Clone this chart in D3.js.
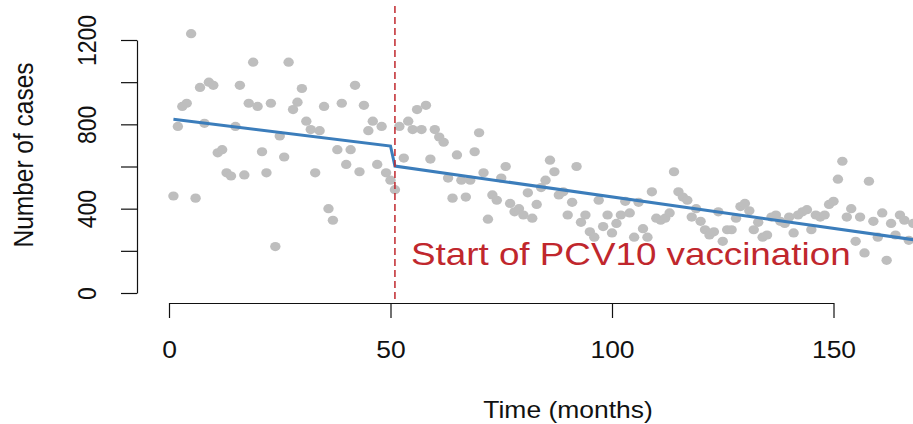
<!DOCTYPE html>
<html>
<head>
<meta charset="utf-8">
<script src="https://cdn.jsdelivr.net/npm/d3@7"></script>
<style>
  body { margin: 0; background: #fff; }
  text { font-family: Arial, "Liberation Sans", sans-serif; }
</style>
</head>
<body>
<div id="chart"></div>
<script>
var width = 913;
var height = 424;

// monthly case counts, months 1..168
var cases = [
  460, 790, 885, 900, 1230, 450, 975, 805, 1000, 985,
  665, 680, 570, 555, 790, 985, 560, 900, 1095, 885,
  670, 570, 900, 220, 745, 645, 1095, 870, 905, 970,
  815, 775, 570, 770, 885, 400, 345, 680, 900, 610,
  680, 985, 575, 890, 770, 815, 610, 790, 570, 535,
  490, 790, 640, 815, 775, 870, 775, 890, 635, 775,
  740, 715, 545, 450, 655, 535, 455, 535, 670, 760,
  570, 350, 465, 440, 545, 600, 425, 385, 400, 370,
  475, 355, 420, 500, 535, 630, 575, 465, 480, 370,
  430, 600, 335, 370, 290, 265, 440, 315, 370, 285,
  330, 370, 435, 380, 265, 430, 305, 265, 480, 355,
  345, 355, 380, 575, 480, 455, 440, 360, 400, 340,
  300, 275, 290, 385, 245, 300, 300, 355, 410, 425,
  390, 300, 335, 265, 275, 360, 370, 340, 330, 360,
  285, 370, 385, 395, 300, 370, 360, 370, 420, 435,
  540, 625, 360, 400, 245, 360, 190, 530, 340, 265,
  380, 155, 330, 275, 370, 345, 250, 330
];
var months = d3.range(1, cases.length + 1);

// fitted segmented regression (vertices of the blue line)
var fitPre = [{t: 1, v: 824}, {t: 50, v: 697}];
var fitPost = [{t: 51, v: 602}, {t: 168, v: 253}];

var interventionMonth = 51;
var annotation = "Start of PCV10 vaccination";

var xTicks = [0, 50, 100, 150];
var yTicks = [0, 200, 400, 600, 800, 1000, 1200];
var yTickLabels = [0, 400, 800, 1200];

var stretch = 1.15;

var svg = d3.select("#chart")
  .append("svg")
  .attr("width", width)
  .attr("height", height);

var xScale = d3.scaleLinear()
  .domain([0, 150])
  .range([169, 833.5]);

var yScale = d3.scaleLinear()
  .domain([0, 1200])
  .range([293, 40]);

// points
svg.append("g")
  .selectAll("ellipse")
  .data(months)
  .enter()
  .append("ellipse")
    .attr("cx", function(d) { return xScale(d); })
    .attr("cy", function(d, i) { return yScale(cases[i]); })
    .attr("rx", 5.2)
    .attr("ry", 4.6)
    .attr("fill", "#bebebe");

// fitted line
var line = d3.line()
  .x(function(d) { return xScale(d.t); })
  .y(function(d) { return yScale(d.v); });

svg.append("path")
  .datum(fitPre.concat(fitPost))
  .attr("d", line)
  .attr("fill", "none")
  .attr("stroke", "#3b7dbb")
  .attr("stroke-width", 3);

// intervention line
svg.append("line")
  .attr("x1", xScale(interventionMonth))
  .attr("x2", xScale(interventionMonth))
  .attr("y1", 6)
  .attr("y2", 303)
  .attr("stroke", "#c0272d")
  .attr("stroke-width", 1.5)
  .attr("stroke-dasharray", "7,4");

svg.append("text")
  .attr("transform", "translate(411,265) scale(" + stretch + ",1)")
  .attr("font-size", 32)
  .attr("fill", "#c0272d")
  .text(annotation);

// x axis
var xAxis = svg.append("g")
  .attr("transform", "translate(0,303)")
  .call(d3.axisBottom(xScale).tickValues(xTicks).tickSizeInner(15).tickSizeOuter(0));

xAxis.selectAll("text")
  .attr("y", 55)
  .attr("dy", 0)
  .attr("font-size", 23)
  .attr("fill", "#111")
  .attr("transform", "scale(" + stretch + ",1)");

// y axis
var yAxis = svg.append("g")
  .attr("transform", "translate(137,0)")
  .call(d3.axisLeft(yScale).tickValues(yTicks).tickSizeInner(16).tickSizeOuter(0)
    .tickFormat(function(d) { return yTickLabels.indexOf(d) >= 0 ? d : ""; }));

yAxis.selectAll("text")
  .attr("x", 0)
  .attr("y", 0)
  .attr("dy", 0)
  .attr("text-anchor", "middle")
  .attr("font-size", 23)
  .attr("fill", "#111")
  .attr("transform", "translate(-41,0) scale(" + stretch + ",1) rotate(-90)");

svg.selectAll(".domain, .tick line")
  .attr("stroke", "#111")
  .attr("stroke-width", 1.2);

// axis titles
svg.append("text")
  .attr("transform", "translate(568,418) scale(" + stretch + ",1)")
  .attr("text-anchor", "middle")
  .attr("font-size", 23)
  .attr("fill", "#111")
  .text("Time (months)");

svg.append("text")
  .attr("transform", "translate(33,155) scale(" + stretch + ",1) rotate(-90)")
  .attr("text-anchor", "middle")
  .attr("font-size", 24.5)
  .attr("fill", "#111")
  .text("Number of cases");
</script>
</body>
</html>
